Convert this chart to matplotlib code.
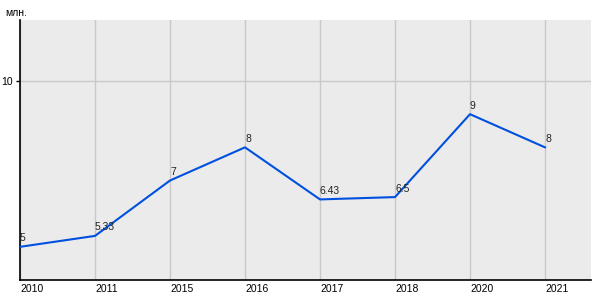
import matplotlib
matplotlib.use("Agg")
import matplotlib.pyplot as plt

years = ["2010", "2011", "2015", "2016", "2017", "2018", "2020", "2021"]
values = [5, 5.33, 7, 8, 6.43, 6.5, 9, 8]
labels = ["5", "5.33", "7", "8", "6.43", "6.5", "9", "8"]
unit = "млн."

plt.rcParams['font.family'] = ['Liberation Sans', 'DejaVu Sans']

fig = plt.figure(figsize=(6, 3), dpi=100)
ax = fig.add_axes([20/600, 20/300, 571/600, 260/300])
ax.set_facecolor('#ebebeb')

x = list(range(len(years)))
ax.plot(x, values, color='#0050e0', lw=1.5, zorder=3)
for xi, v, lab in zip(x, values, labels):
    ax.annotate(lab, (xi, v), xytext=(0, 2.5), textcoords='offset points',
                ha='left', va='bottom', fontsize=7.5, color='#222222', zorder=4)

ax.set_xlim(0, 571/75)
ax.set_ylim(4, 11.84)
ax.set_xticks(x)
ax.set_xticklabels(years, ha='left', fontsize=7.5)
ax.set_yticks([10])
ax.set_yticklabels(["10"], fontsize=7.5)
ax.tick_params(axis='x', length=0, pad=3)
ax.tick_params(axis='y', length=3, pad=2, width=1)
ax.grid(True, color='#c8c8c8', lw=1)
ax.set_axisbelow(True)
for s in ['top', 'right']:
    ax.spines[s].set_visible(False)
for s in ['left', 'bottom']:
    ax.spines[s].set_color('black')
    ax.spines[s].set_linewidth(1.2)

fig.text(5/600, 1 - 13/300, unit, fontsize=7.5, ha='left', va='center')

fig.savefig("out.png", dpi=100)
